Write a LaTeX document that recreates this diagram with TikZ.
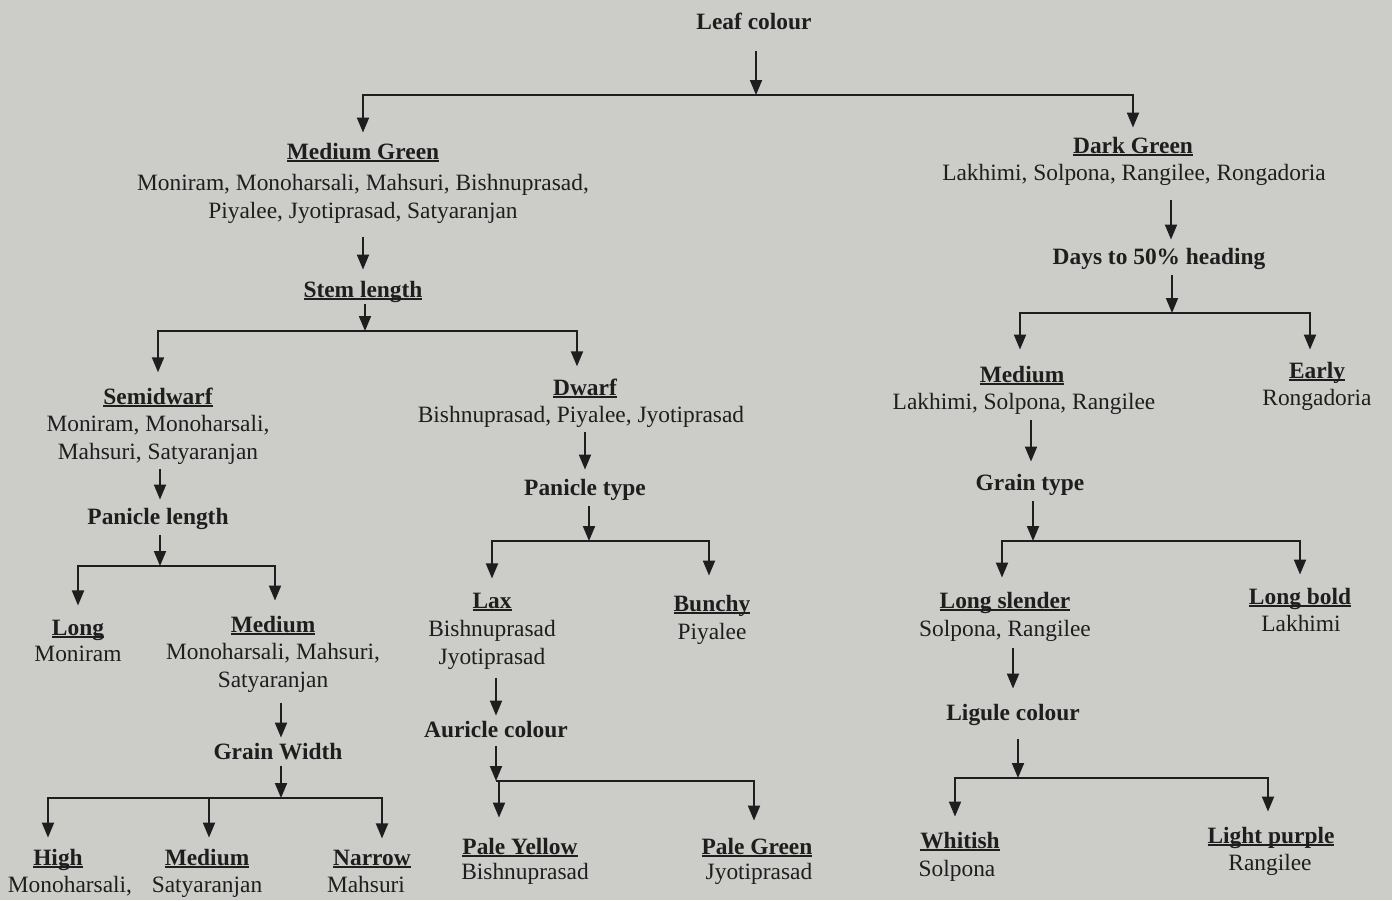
\documentclass[tikz,border=0pt]{standalone}
\usepackage{fontspec}
\setmainfont{Liberation Serif}
\usetikzlibrary{arrows.meta}
\definecolor{paper}{RGB}{204,204,200}
\definecolor{ink}{RGB}{30,30,30}
\newsavebox\ulsavebox
\newcommand\ulhead[1]{\sbox\ulsavebox{#1}\rlap{\rule[-3.2pt]{\wd\ulsavebox}{1.9pt}}\usebox\ulsavebox}
\newcommand\treefont{\fontsize{23.4}{28}\selectfont}
\tikzset{
  head/.style={font=\treefont\bfseries, inner sep=0pt, anchor=base, text=ink},
  varb/.style={font=\treefont, inner sep=0pt, anchor=base, text=ink},
  varn/.style={font=\treefont, inner sep=0pt, anchor=north, align=center, text=ink},
  arr/.style={draw=ink, line width=1.9pt, -{Triangle[width=12pt,length=15pt]}},
  link/.style={arr, shorten <=12pt, shorten >=11pt},
  feed/.style={arr, shorten <=6pt},
  drop/.style={arr, shorten >=13pt}
}
\begin{document}
\begin{tikzpicture}[x=1pt,y=-1pt]
\fill[paper] (0,0) rectangle (1392,900);
\useasboundingbox (0,0) rectangle (1392,900);

% headings
\node[head] (leaf) at (754,29) {Leaf colour};
\node[head] (medgreen) at (363,159) {\ulhead{Medium Green}};
\node[head] (stem) at (363,297) {\ulhead{Stem length}};
\node[head] (semidwarf) at (158,404) {\ulhead{Semidwarf}};
\node[head] (dwarf) at (585,395) {\ulhead{Dwarf}};
\node[head] (panlen) at (158,524) {Panicle length};
\node[head] (pantype) at (585,495) {Panicle type};
\node[head] (long) at (78,635) {\ulhead{Long}};
\node[head] (mediuma) at (273,632) {\ulhead{Medium}};
\node[head] (lax) at (492,608) {\ulhead{Lax}};
\node[head] (bunchy) at (712,611) {\ulhead{Bunchy}};
\node[head] (auricle) at (496,737) {Auricle colour};
\node[head] (grainw) at (278,759) {Grain Width};
\node[head] (high) at (58,865) {\ulhead{High}};
\node[head] (mediumb) at (207,865) {\ulhead{Medium}};
\node[head] (narrow) at (372,865) {\ulhead{Narrow}};
\node[head] (paleyellow) at (520,854) {\ulhead{Pale Yellow}};
\node[head] (palegreen) at (757,854) {\ulhead{Pale Green}};
\node[head] (darkgreen) at (1133,153) {\ulhead{Dark Green}};
\node[head] (days) at (1159,264) {Days to 50\% heading};
\node[head] (mediumc) at (1022,382) {\ulhead{Medium}};
\node[head] (early) at (1317,378) {\ulhead{Early}};
\node[head] (graintype) at (1030,490) {Grain type};
\node[head] (longslender) at (1005,608) {\ulhead{Long slender}};
\node[head] (longbold) at (1300,604) {\ulhead{Long bold}};
\node[head] (ligule) at (1013,720) {Ligule colour};
\node[head] (whitish) at (960,848) {\ulhead{Whitish}};
\node[head] (lightpurple) at (1271,843) {\ulhead{Light purple}};

% varieties
\node[varn] (medgreenv) at (363,174) {Moniram, Monoharsali, Mahsuri, Bishnuprasad,\\Piyalee, Jyotiprasad, Satyaranjan};
\node[varb] (darkgreenv) at (1134,180) {Lakhimi, Solpona, Rangilee, Rongadoria};
\node[varn] (semidwarfv) at (158,415) {Moniram, Monoharsali,\\Mahsuri, Satyaranjan};
\node[varb] (dwarfv) at (581,422) {Bishnuprasad, Piyalee, Jyotiprasad};
\node[varb] (longv) at (78,661) {Moniram};
\node[varn] (mediumav) at (273,643) {Monoharsali, Mahsuri,\\Satyaranjan};
\node[varn] (laxv) at (492,620) {Bishnuprasad\\Jyotiprasad};
\node[varb] (bunchyv) at (712,639) {Piyalee};
\node[varb] (highv) at (70,892) {Monoharsali,};
\node[varb] (mediumbv) at (207,892) {Satyaranjan};
\node[varb] (narrowv) at (366,892) {Mahsuri};
\node[varb] (paleyellowv) at (525,879) {Bishnuprasad};
\node[varb] (palegreenv) at (759,879) {Jyotiprasad};
\node[varb] (mediumcv) at (1024,409) {Lakhimi, Solpona, Rangilee};
\node[varb] (earlyv) at (1317,405) {Rongadoria};
\node[varb] (longslenderv) at (1005,636) {Solpona, Rangilee};
\node[varb] (longboldv) at (1301,631) {Lakhimi};
\node[varb] (whitishv) at (957,876) {Solpona};
\node[varb] (lightpurplev) at (1270,870) {Rangilee};

% junctions
\coordinate (j1) at (756,95);
\coordinate (j2) at (365,331);
\coordinate (j3) at (160,566);
\coordinate (j4) at (281,798);
\coordinate (j5) at (589,541);
\coordinate (j6) at (496,781);
\coordinate (j7) at (1172,313);
\coordinate (j8) at (1033,541);
\coordinate (j9) at (1018,778);

% feeds into bars
\draw[feed, shorten <=22pt] ([xshift=2pt]leaf.south) -- (j1);
\draw[feed, shorten <=2pt] ([xshift=2pt]stem.south) -- (j2);
\draw[feed] ([xshift=2pt]panlen.south) -- (j3);
\draw[feed] ([xshift=3pt]grainw.south) -- (j4);
\draw[feed] ([xshift=4pt]pantype.south) -- (j5);
\draw[feed, shorten <=9pt] (auricle.south) -- (j6);
\draw[feed] ([xshift=13pt]days.south) -- (j7);
\draw[feed] ([xshift=3pt]graintype.south) -- (j8);
\draw[feed, shorten <=14pt] ([xshift=5pt]ligule.south) -- (j9);

% drops
\draw[drop, shorten >=10pt] (j1) -| (medgreen.north);
\draw[drop, shorten >=9pt] (j1) -| (darkgreen.north);
\draw[drop, shorten >=15pt] (j2) -| (semidwarf.north);
\draw[drop, shorten >=12pt] (j2) -| ([xshift=-8pt]dwarf.north);
\draw[drop, shorten >=14pt] (j3) -| (long.north);
\draw[drop, shorten >=15pt] (j3) -| ([xshift=2pt]mediuma.north);
\draw[drop, shorten >=11pt] (j4) -| ([xshift=-10pt]high.north);
\draw[drop, shorten >=11pt] (j4) -| ([xshift=2pt]mediumb.north);
\draw[drop, shorten >=11pt] (j4) -| ([xshift=10pt]narrow.north);
\draw[drop, shorten >=14pt] (j5) -| (lax.north);
\draw[drop, shorten >=19pt] (j5) -| ([xshift=-3pt]bunchy.north);
\draw[drop, shorten >=20pt] (j6) -| ([xshift=-21pt]paleyellow.north);
\draw[drop, shorten >=17pt] (j6) -| ([xshift=-3pt]palegreen.north);
\draw[drop, shorten >=16pt] (j7) -| ([xshift=-2pt]mediumc.north);
\draw[drop, shorten >=12pt] (j7) -| ([xshift=-7pt]early.north);
\draw[drop, shorten >=14pt] (j8) -| ([xshift=-3pt]longslender.north);
\draw[drop, shorten >=13pt] (j8) -| (longbold.north);
\draw[drop, shorten >=15pt] (j9) -| ([xshift=-5pt]whitish.north);
\draw[drop, shorten >=15pt] (j9) -| ([xshift=-3pt]lightpurple.north);

% links between nodes
\draw[link, shorten <=13pt, shorten >=11pt] (medgreenv.south) -- (stem.north);
\draw[link, shorten <=4pt, shorten >=8pt] ([xshift=2pt]semidwarfv.south) -- ([xshift=2pt]panlen.north);
\draw[link, shorten <=10pt, shorten >=5pt] ([xshift=8pt]mediumav.south) -- ([xshift=3pt]grainw.north);
\draw[link, shorten <=5pt, shorten >=9pt] ([xshift=4pt]dwarfv.south) -- (pantype.north);
\draw[link, shorten <=8pt, shorten >=5pt] ([xshift=4pt]laxv.south) -- (auricle.north);
\draw[link, shorten <=15pt, shorten >=8pt] ([xshift=37pt]darkgreenv.south) -- ([xshift=12pt]days.north);
\draw[link, shorten <=6pt, shorten >=12pt] ([xshift=7pt]mediumcv.south) -- ([xshift=1pt]graintype.north);
\draw[link, shorten <=7pt, shorten >=15pt] ([xshift=8pt]longslenderv.south) -- (ligule.north);
\end{tikzpicture}
\end{document}
